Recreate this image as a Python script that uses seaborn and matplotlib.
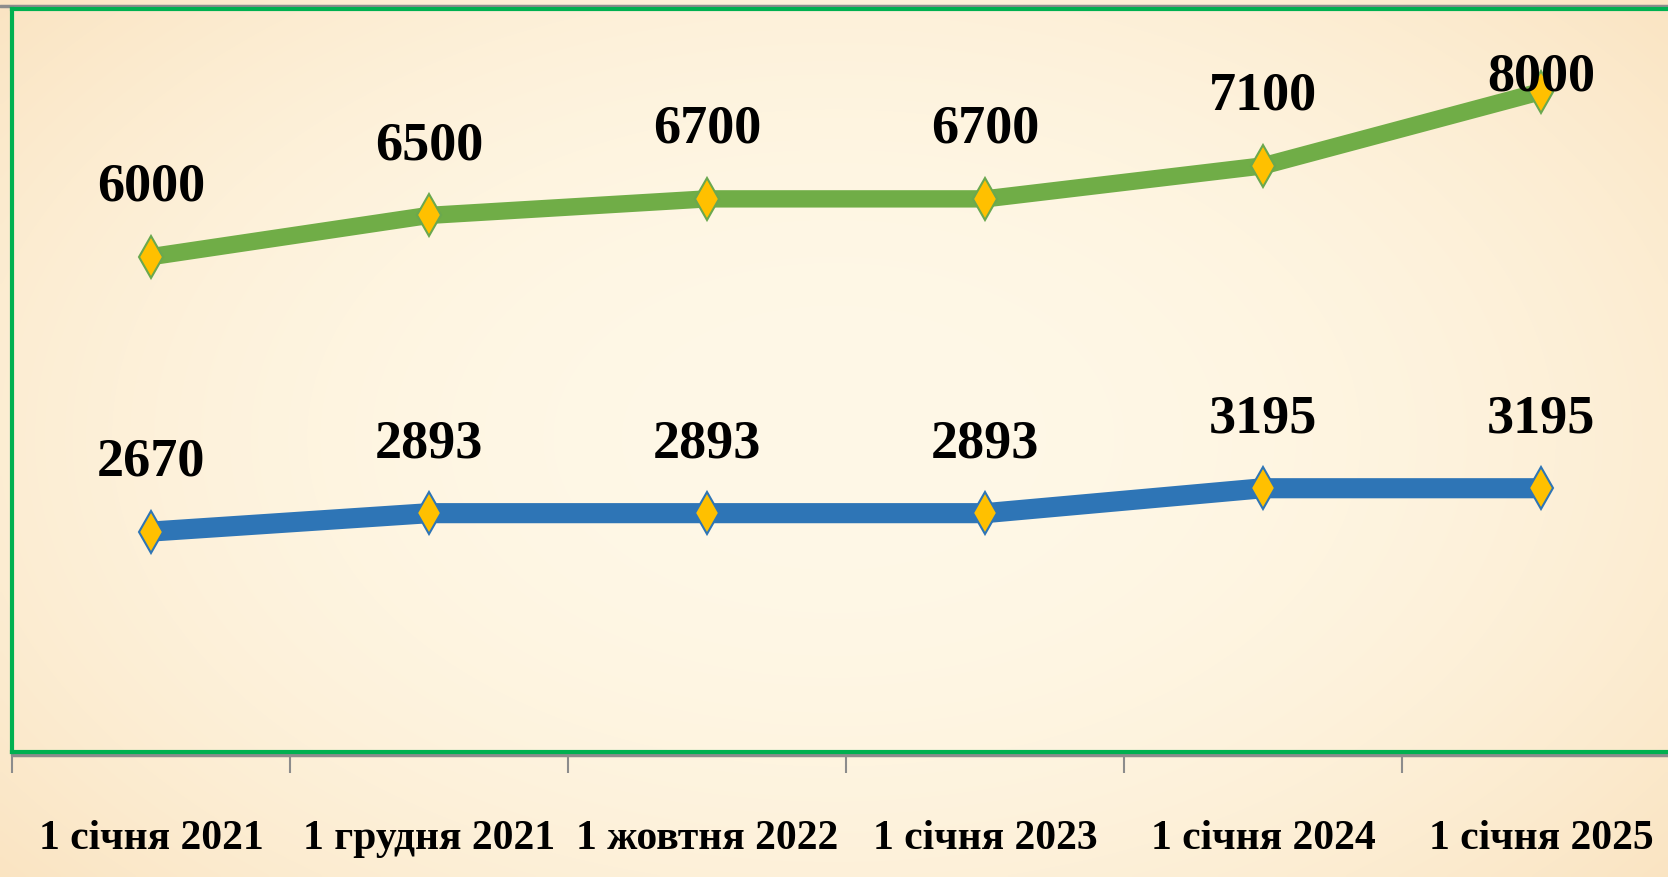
import numpy as np
import pandas as pd
import matplotlib
matplotlib.use("Agg")
import matplotlib.pyplot as plt
import seaborn as sns

# ── data ──────────────────────────────────────────────────────────────
dates = ["1 січня 2021", "1 грудня 2021", "1 жовтня 2022",
         "1 січня 2023", "1 січня 2024", "1 січня 2025"]
upper_values = [6000, 6500, 6700, 6700, 7100, 8000]
lower_values = [2670, 2893, 2893, 2893, 3195, 3195]

sns.set_theme(style="white")
plt.rcParams["font.family"] = ["Liberation Serif", "DejaVu Serif"]

fig = plt.figure(figsize=(16.68, 8.78), dpi=100)

# background gradient (lighter centre, peach edges)
bg = fig.add_axes([0, 0, 1, 1], zorder=-10)
gx, gy = np.meshgrid(np.linspace(-1, 1, 400), np.linspace(-1, 1, 220))
r = np.clip(np.sqrt((gx * 0.95) ** 2 + (gy * 0.8) ** 2) / 1.25, 0, 1)
centre = np.array([255, 248, 231]) / 255
edge = np.array([250, 228, 194]) / 255
img = centre + (edge - centre) * (r[..., None] ** 2.2)
bg.imshow(img, aspect="auto", extent=[0, 1, 0, 1], interpolation="bilinear")
bg.axis("off")
# thin grey frame line above the plot area
bg.plot([0, 1], [0.992, 0.992], color="#8c8c8c", lw=2.5, transform=bg.transAxes)

ax = fig.add_axes([12 / 1668, 125 / 878, 1668 / 1668, 743 / 878])
ax.patch.set_alpha(0)

df = pd.DataFrame({"x": range(len(dates)), "upper": upper_values, "lower": lower_values})

series = [
    ("upper", "#70AD47", "#6aa84f", 12.5),
    ("lower", "#2E75B6", "#2E75B6", 14.5),
]
for col, color, edgecol, lw in series:
    sns.lineplot(data=df, x="x", y=col, ax=ax, color=color, linewidth=lw,
                 marker="d", markersize=21, markerfacecolor="#FFC000",
                 markeredgecolor=edgecol, markeredgewidth=1.5,
                 solid_capstyle="butt")

# data labels
label_offsets = {("upper", 5): 1.5}
for col, _, _, _ in series:
    for i, v in enumerate(df[col]):
        off = label_offsets.get((col, i), 41)
        ax.annotate(f"{v}", (i, v), xytext=(0, off), textcoords="offset points",
                    ha="center", va="baseline", fontsize=39, fontweight="bold",
                    color="black")

ax.set_xlim(-0.5, len(dates) - 0.5)
ax.set_ylim(0, 9000)
ax.set_yticks([])
ax.set_xticks(range(len(dates)))
ax.set_xticklabels(dates, fontsize=30, fontweight="bold", color="black")
ax.set_xticks(np.arange(-0.5, len(dates)), minor=True)
ax.tick_params(axis="x", which="major", length=0, pad=48)
ax.tick_params(axis="x", which="minor", length=15, width=1.5,
               color="#8c8c8c", direction="out", bottom=True)
ax.set_xlabel("")
ax.set_ylabel("")

for s in ax.spines.values():
    s.set_color("#00B050")
    s.set_linewidth(3)
# grey category axis line just under the green border
ax.plot([0, 1], [-0.004, -0.004], transform=ax.transAxes, color="#8c8c8c",
        lw=2.5, clip_on=False)

fig.savefig("out.png", dpi=100)
